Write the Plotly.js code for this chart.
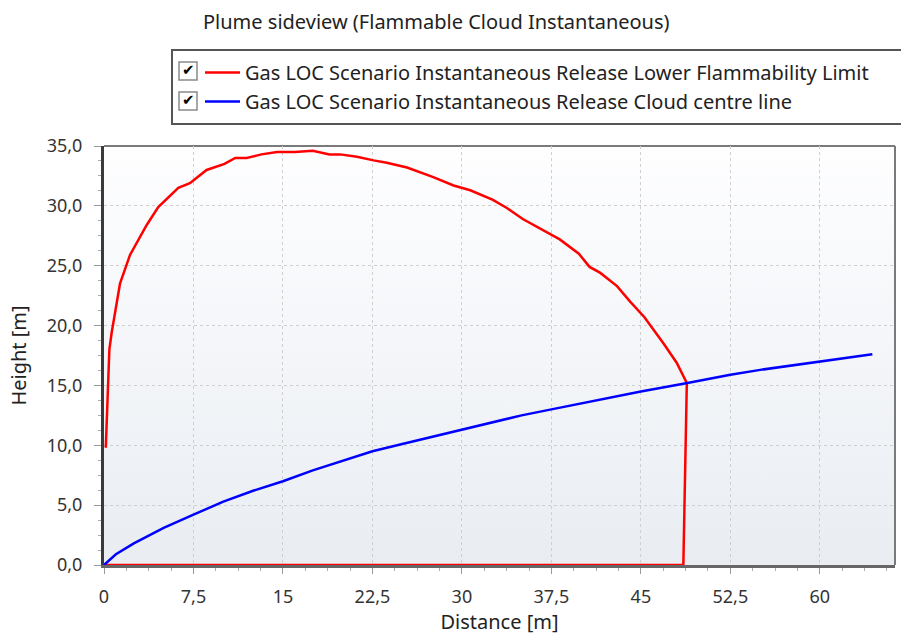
<!DOCTYPE html>
<html>
<head>
<meta charset="utf-8">
<script src="https://cdn.plot.ly/plotly-3.0.1.min.js"></script>
<style>html,body{margin:0;padding:0;background:#fff;}#chart{width:901px;height:635px;}</style>
</head>
<body>
<div id="chart"></div>
<script>
// ---- data ----
const lflName = "Gas LOC Scenario Instantaneous Release Lower Flammability Limit";
const lflX = [0.15, 0.3, 0.45, 0.64, 1.34, 2.18, 3.58, 4.55, 6.23, 7.2, 8.6, 10.1, 11.0, 11.96, 13.2, 14.5, 16.0, 17.5, 18.9, 19.8, 21.2, 22.6, 23.7, 25.4, 27.6, 29.3, 30.7, 32.6, 33.8, 35.1, 36.5, 38.2, 39.8, 40.7, 41.6, 43.0, 44.1, 45.3, 46.9, 48.0, 48.85, 48.56, 0];
const lflY = [9.8, 14.9, 18.0, 19.4, 23.5, 25.9, 28.4, 29.9, 31.5, 31.9, 33.0, 33.5, 34.0, 34.0, 34.3, 34.5, 34.5, 34.6, 34.3, 34.3, 34.1, 33.8, 33.6, 33.2, 32.4, 31.7, 31.3, 30.5, 29.8, 28.9, 28.1, 27.2, 26.0, 24.9, 24.4, 23.3, 22.0, 20.7, 18.5, 16.9, 15.2, 0, 0];

const ccName = "Gas LOC Scenario Instantaneous Release Cloud centre line";
const ccX = [0, 1, 2.5, 5, 7.5, 10, 12.5, 15, 17.5, 20, 22.5, 25, 30, 35, 37.5, 40, 45, 48.9, 52.5, 55, 60, 64.4];
const ccY = [0, 0.9, 1.8, 3.1, 4.2, 5.3, 6.2, 7.0, 7.9, 8.7, 9.5, 10.1, 11.3, 12.5, 13.0, 13.5, 14.5, 15.2, 15.9, 16.3, 17.0, 17.6];

const chartTitle = "Plume sideview (Flammable Cloud Instantaneous)";
const xTitle = "Distance [m]";
const yTitle = "Height [m]";
const xRange = [0, 66.3];
const yRange = [0, 35];

// ---- layout helpers (pixel -> paper) ----
const M = {l: 104, r: 6, t: 146, b: 70};
const W = 901, H = 635;
const PW = W - M.l - M.r, PH = H - M.t - M.b;
const px = x => (x - M.l) / PW;
const py = y => (H - M.b - y) / PH;

const FONT = "Noto Sans, Open Sans, sans-serif";

const grad = 'data:image/svg+xml;utf8,' + encodeURIComponent(
  '<svg xmlns="http://www.w3.org/2000/svg" width="100" height="100" preserveAspectRatio="none">' +
  '<defs><linearGradient id="g" x1="0" y1="0" x2="0" y2="1">' +
  '<stop offset="0" stop-color="#fefeff"/><stop offset="1" stop-color="#e9edf2"/></linearGradient></defs>' +
  '<rect width="100" height="100" fill="url(#g)"/></svg>');

const traces = [
  {x: lflX, y: lflY, name: lflName, type: 'scatter', mode: 'lines',
   line: {color: '#ff0000', width: 2.5}, legendgroup: 'a'},
  {x: ccX, y: ccY, name: ccName, type: 'scatter', mode: 'lines',
   line: {color: '#0000ff', width: 2.5}, legendgroup: 'b'}
];

const checkboxes = [];
const checkAnn = [];
[71, 101].forEach(cy => {
  checkboxes.push({type: 'rect', xref: 'paper', yref: 'paper', layer: 'above',
    x0: px(179), x1: px(197), y0: py(cy + 9), y1: py(cy - 9),
    line: {color: '#8a8a8a', width: 1.5}, fillcolor: '#ffffff'});
  checkAnn.push({xref: 'paper', yref: 'paper', x: px(188), y: py(cy - 1), text: '✔',
    showarrow: false, font: {family: 'DejaVu Sans', size: 15, color: '#000'},
    xanchor: 'center', yanchor: 'middle'});
});

const layout = {
  width: W, height: H,
  margin: M,
  paper_bgcolor: '#ffffff',
  plot_bgcolor: 'rgba(0,0,0,0)',
  separators: ', ',
  font: {family: FONT, size: 16, color: '#333333'},
  title: {text: chartTitle, xref: 'container', yref: 'container',
    x: 203 / W, xanchor: 'left', y: 1 - 22 / H, yanchor: 'middle',
    font: {family: FONT, size: 20, color: '#222222'}},
  showlegend: true,
  legend: {x: px(200), xanchor: 'left', y: py(53), yanchor: 'top',
    bgcolor: 'rgba(0,0,0,0)', borderwidth: 0, tracegroupgap: 4, itemwidth: 35,
    font: {family: FONT, size: 20, color: '#222222'}, traceorder: 'normal'},
  xaxis: {range: xRange, dtick: 7.5, tick0: 0, showgrid: true, gridcolor: '#cfcfcf',
    griddash: 'dot', gridwidth: 1, zeroline: false, showline: true, linecolor: '#666666',
    linewidth: 3, ticks: 'outside', ticklen: 6, tickcolor: '#999999', tickwidth: 1,
    minor: {dtick: 1.875, ticks: 'outside', ticklen: 3, tickcolor: '#aaaaaa', showgrid: false},
    layer: 'below traces', tickfont: {size: 18, color: '#333333'}, ticklabelstandoff: 7,
    title: {text: xTitle, font: {size: 20, color: '#222222'}, standoff: 6}},
  yaxis: {range: yRange, dtick: 5, tick0: 0, tickformat: '.1f', showgrid: true, gridcolor: '#cfcfcf',
    griddash: 'dot', gridwidth: 1, zeroline: false, showline: true, linecolor: '#3a3a3a',
    linewidth: 3, ticks: 'outside', ticklen: 7, tickcolor: '#999999', tickwidth: 1,
    minor: {dtick: 1.25, ticks: 'outside', ticklen: 3, tickcolor: '#aaaaaa', showgrid: false},
    layer: 'below traces', tickfont: {size: 18, color: '#333333'}, ticklabelstandoff: 8,
    title: {text: yTitle, font: {size: 20, color: '#222222'}, standoff: 15}},
  images: [{source: grad, xref: 'paper', yref: 'paper', x: 0, y: 1, sizex: 1, sizey: 1,
    sizing: 'stretch', layer: 'below', xanchor: 'left', yanchor: 'top'}],
  shapes: [
    {type: 'line', xref: 'paper', yref: 'paper', x0: 0, x1: 1, y0: 1, y1: 1,
     line: {color: '#7a7a7a', width: 2}, layer: 'below'},
    {type: 'line', xref: 'paper', yref: 'paper', x0: 1, x1: 1, y0: 0, y1: 1,
     line: {color: '#7a7a7a', width: 2}, layer: 'below'},
    {type: 'rect', xref: 'paper', yref: 'paper', x0: px(172), x1: px(907), y0: py(124), y1: py(50),
     line: {color: '#555555', width: 2}, fillcolor: 'rgba(0,0,0,0)'}
  ].concat(checkboxes),
  annotations: checkAnn
};

Plotly.newPlot('chart', traces, layout, {displayModeBar: false, staticPlot: true});
</script>
</body>
</html>
